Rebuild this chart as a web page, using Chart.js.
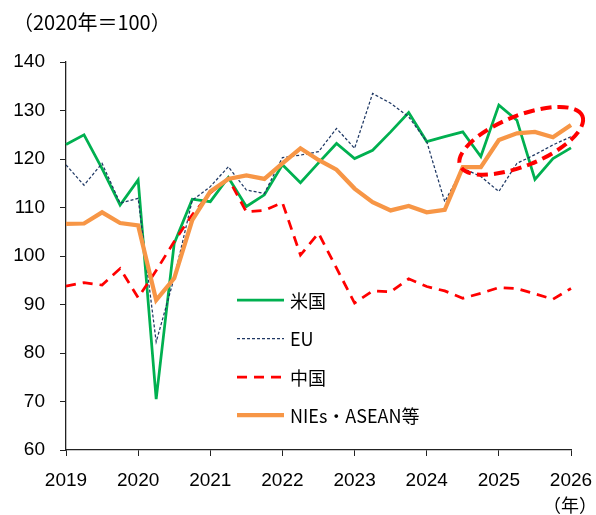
<!DOCTYPE html>
<html>
<head>
<meta charset="utf-8">
<script src="https://cdn.jsdelivr.net/npm/chart.js@4.4.1/dist/chart.umd.min.js"></script>
<style>
  html, body { margin: 0; padding: 0; background: #fff; }
  #wrap { position: relative; width: 596px; height: 515px; }
</style>
</head>
<body>
<div id="wrap"><canvas id="chart" width="596" height="515"></canvas></div>
<script>
// Quarterly index, 2020 = 100, 2019Q1 .. 2026Q1
const years = ['2019', '2020', '2021', '2022', '2023', '2024', '2025', '2026'];
const yTicks = [60, 70, 80, 90, 100, 110, 120, 130, 140];

const usData = [123, 125, 118, 110.5, 115.7, 70.5, 102.6, 111.7, 111.2, 116.2, 110.2, 112.6, 118.8, 115.1, 119.2,
    123.2, 120.1, 121.8, 125.6, 129.6, 123.6, 124.6, 125.6, 120.5, 131.1, 128, 115.8, 120.1, 122.3];
const euData = [118.8, 114.6, 119.1, 110.9, 111.9, 82.3, 95.5, 111.5, 114.3, 118.4, 113.6, 112.9, 120.3, 120.8, 121.5,
    126.3, 122.2, 133.5, 131.5, 128.7, 123.6, 111.2, 118.1, 116.4, 113.3, 119.1, 120.9, 122.9, 124.6];
const chinaData = [93.8, 94.5, 94, 97.4, 91.4, 97, 103, 108.5, 113, 116, 109.1, 109.4, 111, 100.2, 104.7,
    97.5, 90.3, 92.8, 92.6, 95.3, 93.7, 92.8, 91.3, 92.3, 93.5, 93.3, 92.2, 91.1, 93.3];
const aseanData = [106.6, 106.7, 109, 106.8, 106.3, 90.9, 95.4, 107.4, 113.3, 115.9, 116.6, 115.9, 119.1, 122.2, 119.8,
    117.8, 113.9, 111.1, 109.4, 110.3, 109, 109.5, 118.3, 118.3, 123.9, 125.3, 125.6, 124.5, 127];

const quarters = [];
years.forEach((y, i) => {
    const n = i === years.length - 1 ? 1 : 4;
    for (let q = 1; q <= n; q++) quarters.push(y + 'Q' + q);
});

// highlighted region (dashed ellipse), centred in data units
const highlight = { index: 25.24, value: 123.75, rx: 66, ry: 25, angle: -22 };

const cjkFont = '"Noto Sans CJK JP", "Liberation Sans", sans-serif';
const tickFont = { family: '"Liberation Sans", Arial, sans-serif', size: 19 };

const overlay = {
    id: 'overlay',
    afterDatasetsDraw(chart) {
        const ctx = chart.ctx;
        const cx = chart.scales.x.getPixelForValue(highlight.index);
        const cy = chart.scales.y.getPixelForValue(highlight.value);
        ctx.save();
        ctx.strokeStyle = '#FF0000';
        ctx.lineWidth = 4;
        ctx.setLineDash([11, 6]);
        ctx.beginPath();
        ctx.ellipse(cx, cy, highlight.rx, highlight.ry, highlight.angle * Math.PI / 180, 0, Math.PI * 2);
        ctx.stroke();
        ctx.restore();
    },
    afterDraw(chart) {
        const ctx = chart.ctx;
        ctx.save();
        ctx.fillStyle = '#000';
        ctx.textBaseline = 'middle';
        ctx.textAlign = 'left';
        ctx.font = '20px ' + cjkFont;
        ctx.fillText('（2020年＝100）', 13, 22);
        ctx.font = '18px ' + cjkFont;
        ctx.fillText('（年）', 543, 505);

        // legend inside plot area
        const x0 = 237, x1 = 284, tx = 290;
        const rows = [300, 338.5, 377, 415];
        chart.data.datasets.forEach((ds, i) => {
            const y = rows[i];
            ctx.strokeStyle = ds.borderColor;
            ctx.lineWidth = ds.borderWidth;
            ctx.setLineDash(ds.borderDash || []);
            ctx.beginPath();
            ctx.moveTo(x0, y);
            ctx.lineTo(x1, y);
            ctx.stroke();
            ctx.setLineDash([]);
            ctx.fillText(ds.label, tx, y + 1);
        });
        ctx.restore();
    }
};

new Chart(document.getElementById('chart').getContext('2d'), {
    type: 'line',
    data: {
        labels: quarters,
        datasets: [
            { label: '米国', data: usData, borderColor: '#00B050', borderWidth: 2.75, order: 4 },
            { label: 'EU', data: euData, borderColor: '#1F3864', borderWidth: 1.25, borderDash: [3, 2], order: 3 },
            { label: '中国', data: chinaData, borderColor: '#FF0000', borderWidth: 2.75, borderDash: [10, 7], order: 2 },
            { label: 'NIEs・ASEAN等', data: aseanData, borderColor: '#F79646', borderWidth: 4.25, order: 1 }
        ]
    },
    options: {
        responsive: false,
        animation: false,
        devicePixelRatio: 1,
        layout: { padding: { top: 62, right: 25, left: 0, bottom: 0 } },
        elements: { point: { radius: 0 }, line: { tension: 0, fill: false } },
        plugins: { legend: { display: false }, tooltip: { enabled: false } },
        scales: {
            x: {
                type: 'category',
                offset: false,
                border: { display: true, color: '#222', width: 1.3 },
                grid: {
                    drawOnChartArea: false,
                    drawTicks: true,
                    tickLength: 6,
                    color: (c) => (c.index % 4 === 0 ? '#222' : 'rgba(0,0,0,0)')
                },
                ticks: {
                    autoSkip: false,
                    maxRotation: 0,
                    padding: 13,
                    color: '#000',
                    font: tickFont,
                    callback: (v, i) => (i % 4 === 0 ? years[i / 4] : '')
                },
                afterFit: (s) => { s.height = 65; s.paddingLeft = 0; s.paddingRight = 0; }
            },
            y: {
                min: 60,
                max: 140,
                afterBuildTicks: (s) => { s.ticks = yTicks.map((v) => ({ value: v })); },
                border: { display: true, color: '#222', width: 1.3 },
                grid: { drawOnChartArea: false, drawTicks: true, tickLength: 6, color: '#222' },
                ticks: { padding: 15, color: '#000', font: tickFont },
                afterFit: (s) => { s.width = 66; s.paddingTop = 0; s.paddingBottom = 0; }
            }
        }
    },
    plugins: [overlay]
});
</script>
</body>
</html>
